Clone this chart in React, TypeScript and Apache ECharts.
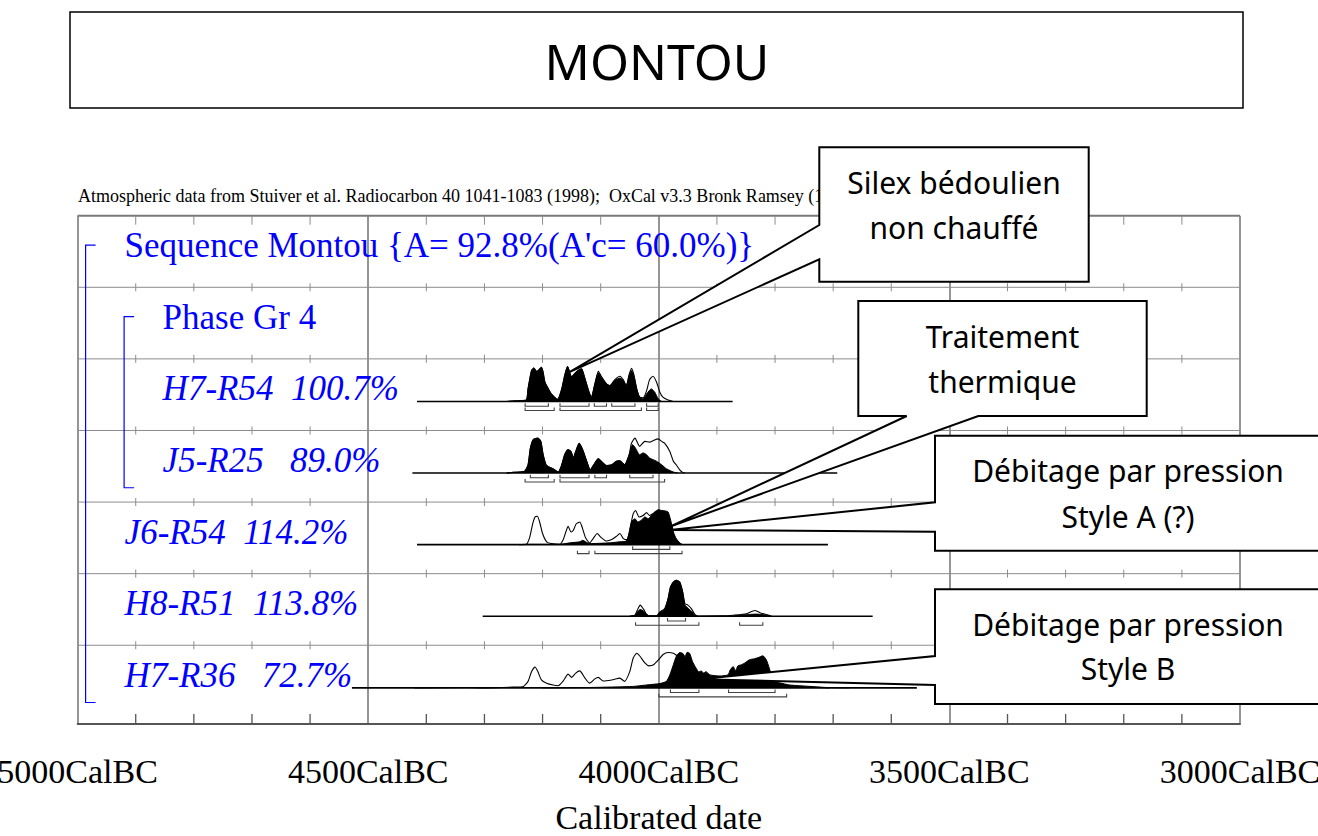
import React, { useEffect, useRef } from "react";
import * as echarts from "echarts";

// ---------- data ----------
const AXIS_MIN_YEAR = 3000;
const AXIS_MAX_YEAR = 5000;
const AXIS_STEP = 500;
const MINOR_STEP = 100;

const ROW_LABELS = [
  "Sequence Montou {A= 92.8%(A'c= 60.0%)}",
  "Phase Gr 4",
  "H7-R54  100.7%",
  "J5-R25   89.0%",
  "J6-R54  114.2%",
  "H8-R51  113.8%",
  "H7-R36   72.7%",
];
const ROW_ITALIC = [false, false, true, true, true, true, true];
const ROW_INDENT = [47, 85, 85, 85, 47, 47, 47];

// [row, fromYear, toYear]
const BASELINES = [
  [2, 4416, 3873],
  [3, 4424, 3693],
  [4, 4416, 3709],
  [5, 4303, 3632],
  [6, 4528, 3556],
];

// 68.2% ranges [row, from, to]
const RANGE_68 = [
  [2, 4230, 4190], [2, 4170, 4120], [2, 4111, 4090], [2, 4081, 4041], [2, 4021, 4001],
  [3, 4221, 4190], [3, 4170, 4120], [3, 4110, 4090], [3, 4050, 4010],
  [4, 4045, 3981],
  [5, 3985, 3954],
  [6, 3980, 3931], [6, 3880, 3800],
];
// 95.4% ranges
const RANGE_95 = [
  [2, 4230, 4180], [2, 4170, 4030], [2, 4021, 4001],
  [3, 4230, 4180], [3, 4170, 3990],
  [4, 4140, 4120], [4, 4110, 3960],
  [5, 4040, 3931], [5, 3861, 3821],
  [6, 4000, 3780],
];

// [year BC, relative probability 0..100]
const H7R54_POST = [
  [4262, 0], [4245, 2], [4228, 4], [4225, 35], [4219, 86], [4215, 93], [4210, 83], [4202, 95], [4199, 81],
  [4196, 54], [4190, 35], [4185, 21], [4174, 6], [4167, 35], [4162, 72], [4157, 97], [4150, 68], [4145, 77],
  [4139, 86], [4133, 91], [4127, 63], [4120, 26], [4116, 12], [4110, 49], [4104, 80], [4099, 68], [4090, 49],
  [4084, 44], [4076, 58], [4067, 65], [4061, 58], [4056, 44], [4051, 72], [4047, 86], [4043, 72], [4038, 35],
  [4033, 12], [4027, 7], [4021, 21], [4013, 35], [4007, 26], [4001, 7], [3995, 0],
];
const H7R54_PRIOR = [
  [4262, 0], [4245, 2], [4228, 4], [4225, 35], [4219, 86], [4215, 93], [4210, 83], [4202, 95], [4199, 81],
  [4196, 54], [4190, 35], [4185, 21], [4174, 6], [4167, 35], [4162, 72], [4157, 97], [4150, 68], [4145, 77],
  [4139, 86], [4133, 91], [4127, 63], [4120, 26], [4116, 12], [4110, 49], [4104, 84], [4099, 70], [4090, 49],
  [4084, 44], [4076, 60], [4067, 70], [4061, 60], [4056, 44], [4051, 75], [4047, 92], [4043, 75], [4038, 35],
  [4033, 12], [4027, 10], [4021, 30], [4016, 60], [4010, 70], [4004, 54], [3998, 25], [3993, 12], [3984, 4],
  [3975, 0],
];
const J5R25_POST = [
  [4262, 0], [4251, 2], [4231, 5], [4225, 23], [4221, 69], [4216, 93], [4208, 97], [4203, 88], [4199, 51],
  [4194, 23], [4188, 16], [4182, 12], [4173, 3], [4167, 23], [4162, 51], [4156, 65], [4151, 60], [4147, 42],
  [4143, 60], [4137, 83], [4131, 65], [4124, 33], [4118, 9], [4112, 23], [4104, 40], [4099, 33], [4090, 21],
  [4081, 23], [4073, 33], [4067, 34], [4059, 23], [4051, 51], [4045, 79], [4040, 69], [4033, 51], [4027, 56],
  [4021, 51], [4016, 42], [4004, 33], [3995, 23], [3987, 12], [3975, 3], [3967, 0],
];
const J5R25_PRIOR = [
  [4262, 0], [4251, 2], [4231, 5], [4225, 23], [4221, 69], [4216, 93], [4208, 97], [4203, 88], [4199, 51],
  [4194, 23], [4188, 16], [4182, 12], [4173, 3], [4167, 23], [4162, 51], [4156, 65], [4151, 60], [4147, 42],
  [4143, 60], [4137, 83], [4131, 65], [4124, 33], [4118, 9], [4112, 23], [4104, 40], [4099, 33], [4090, 21],
  [4081, 23], [4073, 33], [4067, 34], [4059, 23], [4051, 51], [4047, 83], [4041, 97], [4033, 74], [4024, 88],
  [4016, 86], [4010, 90], [4001, 95], [3995, 88], [3990, 83], [3981, 60], [3975, 33], [3970, 23], [3964, 9],
  [3959, 2], [3955, 0],
];
const J6R54_PRIOR = [
  [4240, 0], [4228, 1], [4222, 21], [4217, 58], [4213, 77], [4209, 79], [4205, 63], [4200, 31], [4193, 8],
  [4185, 3], [4170, 1], [4165, 12], [4160, 35], [4156, 51], [4151, 35], [4147, 40], [4142, 58], [4136, 63],
  [4131, 44], [4126, 19], [4119, 5], [4113, 17], [4106, 31], [4100, 21], [4090, 10], [4081, 14], [4073, 23],
  [4067, 31], [4061, 17], [4055, 14], [4049, 49], [4044, 86], [4040, 95], [4034, 77], [4027, 81], [4021, 89],
  [4016, 81], [4010, 86], [4004, 92], [3995, 86], [3987, 81], [3978, 49], [3973, 21], [3967, 7], [3961, 0],
];
const J6R54_POST = [
  [4240, 0], [4228, 1], [4170, 1], [4153, 5], [4136, 8], [4131, 12], [4126, 8], [4119, 3], [4084, 5],
  [4067, 8], [4056, 10], [4051, 31], [4047, 63], [4041, 72], [4036, 63], [4030, 68], [4024, 77], [4018, 72],
  [4013, 81], [4007, 91], [4001, 97], [3995, 95], [3990, 94], [3984, 91], [3978, 58], [3974, 31], [3970, 17],
  [3964, 5], [3959, 0],
];
const H8R51_PRIOR = [
  [4050, 0], [4041, 3], [4037, 17], [4032, 31], [4026, 19], [4021, 5], [4016, 1], [4004, 1], [3998, 12],
  [3990, 21], [3984, 49], [3980, 81], [3975, 95], [3970, 100], [3964, 95], [3959, 68], [3955, 35], [3950, 31],
  [3944, 21], [3938, 5], [3932, 0], [3890, 1], [3872, 3], [3849, 7], [3835, 16], [3826, 10], [3815, 5], [3806, 0],
];
const H8R51_POST = [
  [4050, 0], [4041, 3], [4037, 12], [4032, 19], [4026, 14], [4021, 5], [4016, 1], [4004, 1], [3998, 10],
  [3990, 19], [3984, 49], [3980, 81], [3975, 95], [3970, 100], [3964, 95], [3959, 68], [3955, 31], [3950, 23],
  [3944, 14], [3938, 3], [3932, 0], [3880, 0], [3861, 3], [3844, 5], [3832, 6], [3815, 3], [3806, 0],
];
const H7R36_PRIOR = [
  [4420, 0], [4330, 1], [4300, 0], [4251, 2], [4233, 4], [4225, 18], [4219, 45], [4213, 58], [4208, 45],
  [4202, 22], [4193, 13], [4182, 8], [4173, 6], [4165, 18], [4156, 38], [4150, 29], [4143, 41], [4136, 47],
  [4127, 27], [4119, 13], [4110, 25], [4104, 29], [4096, 19], [4081, 22], [4067, 27], [4059, 18], [4050, 45],
  [4044, 83], [4038, 96], [4032, 87], [4024, 69], [4017, 61], [4009, 64], [4001, 77], [3993, 92], [3984, 98],
  [3975, 96], [3967, 87], [3947, 56], [3930, 33], [3895, 17], [3826, 8], [3758, 3], [3706, 0],
];
const H7R36_POST = [
  [4200, 0], [4119, 1], [4044, 4], [4021, 8], [3998, 12], [3987, 18], [3981, 36], [3975, 64], [3970, 87],
  [3964, 98], [3959, 96], [3955, 87], [3951, 99], [3947, 96], [3942, 73], [3936, 55], [3931, 44], [3927, 47],
  [3923, 41], [3919, 45], [3912, 36], [3895, 33], [3881, 36], [3877, 50], [3872, 59], [3868, 47], [3864, 61],
  [3858, 64], [3852, 69], [3844, 78], [3835, 81], [3829, 84], [3821, 89], [3815, 78], [3810, 55], [3803, 22],
  [3792, 14], [3775, 8], [3758, 6], [3711, 1], [3672, 0],
];

const DISTRIBUTIONS = [
  { row: 2, prior: H7R54_PRIOR, post: H7R54_POST },
  { row: 3, prior: J5R25_PRIOR, post: J5R25_POST },
  { row: 4, prior: J6R54_PRIOR, post: J6R54_POST },
  { row: 5, prior: H8R51_PRIOR, post: H8R51_POST },
  { row: 6, prior: H7R36_PRIOR, post: H7R36_POST },
];

// group brackets [fromRow, toRow]
const GROUP_BRACKETS = [
  [0, 6],
  [1, 3],
];

// callouts: anchor [year, row, rel]
const CALLOUTS = [
  { lines: ["Silex bédoulien", "non chauffé"], tip: [4153, 2, 82] },
  { lines: ["Traitement", "thermique"], tip: [3978, 4, 52] },
  { lines: ["Débitage par pression", "Style A (?)"], tip: [3981, 4, 41] },
  { lines: ["Débitage par pression", "Style B"], tip: [3930, 6, 24] },
];

const TITLE = "MONTOU";
const HEADER =
  "Atmospheric data from Stuiver et al. Radiocarbon 40 1041-1083 (1998);  OxCal v3.3 Bronk Ramsey (1999)";
const X_NAME = "Calibrated date";

// ---------- layout helpers ----------
const Y_MAX = 7.1;
const BASE_OFFSET = 0.405;
const PEAK_UNITS = 0.503;
const rowTop = (k: number) => Y_MAX - k;
const rowBottom = (k: number) => Y_MAX - 1 - k;
const baseOf = (k: number) => rowBottom(k) + BASE_OFFSET;
const valOf = (row: number, rel: number) => baseOf(row) + (rel * PEAK_UNITS) / 100;

const TICK_YEARS: number[] = [];
for (let y = AXIS_MAX_YEAR - MINOR_STEP; y > AXIS_MIN_YEAR; y -= MINOR_STEP) {
  if (y % AXIS_STEP !== 0) TICK_YEARS.push(y);
}

const SERIF = '"Liberation Serif", "Times New Roman", serif';
const HAND = '"Noto Sans", "DejaVu Sans", sans-serif';
const GRID_GRAY = "#8c8c8c";

const ln = (x1: number, y1: number, x2: number, y2: number, stroke: string, lineWidth: number) => ({
  type: "line",
  shape: { x1, y1, x2, y2 },
  style: { stroke, lineWidth },
  silent: true,
});

function buildOption(): any {
  const series: any[] = [];

  // frame: row separators, top border and minor ticks
  series.push({
    type: "custom",
    coordinateSystem: "cartesian2d",
    silent: true,
    z: 1,
    data: [[4000, 1]],
    renderItem: (_p: any, api: any) => {
      const ch: any[] = [];
      const [xL, yT] = api.coord([AXIS_MAX_YEAR, Y_MAX]);
      const [xR, yB] = api.coord([AXIS_MIN_YEAR, 0]);
      ch.push(ln(xL, yT, xR, yT, "#7a7a7a", 2));
      for (let k = 1; k <= 6; k++) {
        const y = api.coord([AXIS_MAX_YEAR, rowTop(k)])[1];
        ch.push(ln(xL, y, xR, y, GRID_GRAY, 1));
        TICK_YEARS.forEach((t) => {
          const x = api.coord([t, rowTop(k)])[0];
          ch.push(ln(x, y - 4, x, y + 4, GRID_GRAY, 1));
        });
      }
      TICK_YEARS.forEach((t) => {
        const x = api.coord([t, Y_MAX])[0];
        ch.push(ln(x, yT, x, yT + 9, GRID_GRAY, 1));
        ch.push(ln(x, yB, x, yB - 10, "#555", 1.3));
      });
      return { type: "group", children: ch };
    },
  });

  // group brackets (blue)
  series.push({
    type: "custom",
    coordinateSystem: "cartesian2d",
    silent: true,
    z: 5,
    data: GROUP_BRACKETS.map((g, i) => [AXIS_MAX_YEAR, i, g[0], g[1]]),
    renderItem: (p: any, api: any) => {
      const g = GROUP_BRACKETS[p.dataIndex];
      const indent = p.dataIndex === 0 ? 8 : 46.5;
      const [x0, yTop] = api.coord([AXIS_MAX_YEAR, rowTop(g[0]) - 0.41]);
      const yBot = api.coord([AXIS_MAX_YEAR, rowBottom(g[1]) + 0.2])[1];
      const x = x0 + indent;
      return {
        type: "polyline",
        shape: { points: [[x + 10, yTop], [x, yTop], [x, yBot], [x + 10, yBot]] },
        style: { stroke: "#0000ff", lineWidth: 1.2, fill: null },
      };
    },
  });

  // distributions
  DISTRIBUTIONS.forEach((d) => {
    const base = baseOf(d.row);
    series.push({
      type: "line",
      silent: true,
      z: 3,
      symbol: "none",
      showSymbol: false,
      smooth: 0.2,
      data: d.post.map(([yr, r]) => [yr, valOf(d.row, r)]),
      lineStyle: { color: "#000", width: 1 },
      areaStyle: { color: "#000", opacity: 1, origin: base },
    });
    series.push({
      type: "line",
      silent: true,
      z: 4,
      symbol: "none",
      showSymbol: false,
      smooth: 0.2,
      data: d.prior.map(([yr, r]) => [yr, valOf(d.row, r)]),
      lineStyle: { color: "#000", width: 1.1 },
    });
  });

  // baselines
  series.push({
    type: "custom",
    coordinateSystem: "cartesian2d",
    silent: true,
    z: 6,
    data: BASELINES.map((b) => [b[1], baseOf(b[0]), b[2]]),
    renderItem: (_p: any, api: any) => {
      const yv = api.value(1);
      const [x1, y] = api.coord([api.value(0), yv]);
      const x2 = api.coord([api.value(2), yv])[0];
      return ln(x1, y, x2, y, "#000", 1.6);
    },
  });

  // ranges
  const rangeItems = [
    ...RANGE_68.map((r) => [r[1], baseOf(r[0]), r[2], 0]),
    ...RANGE_95.map((r) => [r[1], baseOf(r[0]), r[2], 1]),
  ];
  series.push({
    type: "custom",
    coordinateSystem: "cartesian2d",
    silent: true,
    z: 6,
    data: rangeItems,
    renderItem: (_p: any, api: any) => {
      const yv = api.value(1);
      const [x1, y0] = api.coord([api.value(0), yv]);
      const x2 = api.coord([api.value(2), yv])[0];
      const y = y0 + (api.value(3) === 0 ? 4.7 : 9);
      return {
        type: "polyline",
        shape: { points: [[x1, y - 3], [x1, y], [x2, y], [x2, y - 3]] },
        style: { stroke: "#444", lineWidth: 1.1, fill: null },
      };
    },
  });

  // row labels
  series.push({
    type: "custom",
    coordinateSystem: "cartesian2d",
    silent: true,
    z: 7,
    data: ROW_LABELS.map((_, i) => [AXIS_MAX_YEAR, baseOf(i)]),
    renderItem: (p: any, api: any) => {
      const i = p.dataIndex;
      const [x, y] = api.coord([api.value(0), api.value(1)]);
      return {
        type: "text",
        x: x + ROW_INDENT[i],
        y: y - 12.5,
        style: {
          text: ROW_LABELS[i],
          fill: "#0000ff",
          fontSize: 35,
          fontFamily: SERIF,
          fontStyle: ROW_ITALIC[i] ? "italic" : "normal",
          align: "left",
          textAlign: "left",
          verticalAlign: "middle",
          textVerticalAlign: "middle",
        },
      };
    },
  });

  return {
    animation: false,
    backgroundColor: "#fff",
    grid: {
      left: 77.6,
      right: 78,
      top: 215.7,
      bottom: 112,
      containLabel: false,
      outerBoundsMode: "none",
    },
    xAxis: {
      type: "value",
      min: AXIS_MIN_YEAR,
      max: AXIS_MAX_YEAR,
      interval: AXIS_STEP,
      inverse: true,
      name: X_NAME,
      nameLocation: "middle",
      nameGap: 76,
      nameTextStyle: { fontFamily: SERIF, fontSize: 34, color: "#000" },
      axisLine: { show: true, onZero: false, lineStyle: { color: "#555", width: 2 } },
      axisTick: { show: false },
      axisLabel: {
        fontFamily: SERIF,
        fontSize: 34,
        color: "#000",
        margin: 30,
        hideOverlap: false,
        formatter: (v: number) => `${v}CalBC`,
      },
      splitLine: { show: true, lineStyle: { color: "#8a8a8a", width: 1.8 } },
    },
    yAxis: {
      type: "value",
      min: 0,
      max: Y_MAX,
      show: false,
      splitLine: { show: false },
    },
    series,
  };
}

function buildGraphic(px: (yr: number, row: number, rel: number) => number[]): any[] {
  const els: any[] = [];
  const textEl = (
    text: string, x: number, y: number, fontSize: number, fontFamily: string, align = "center", z = 101
  ) => ({
    type: "text",
    x,
    y,
    z,
    silent: true,
    style: {
      text,
      fill: "#000",
      fontSize,
      fontFamily,
      align,
      textAlign: align,
      verticalAlign: "middle",
      textVerticalAlign: "middle",
    },
  });

  // header (sits under the callout boxes)
  els.push(textEl(HEADER, 78, 196, 18, SERIF, "left", 50));

  // title box
  els.push({
    type: "rect",
    z: 100,
    silent: true,
    shape: { x: 70, y: 12, width: 1173, height: 96 },
    style: { fill: "#fff", stroke: "#000", lineWidth: 1.5 },
  });
  els.push(textEl(TITLE, 657, 61, 50, HAND));

  const boxes = [
    { x1: 819.3, y1: 147.3, x2: 1088.7, y2: 281.7, side: "left", a: 225, b: 259.3, ty: [182.7, 227] },
    { x1: 858.3, y1: 301, x2: 1146.7, y2: 416, side: "bottom", a: 906.7, b: 978.3, ty: [336.7, 381.7] },
    { x1: 935, y1: 435.7, x2: 1322, y2: 550.7, side: "left", a: 502.3, b: 531.7, ty: [470, 516.7] },
    { x1: 935, y1: 589.3, x2: 1322, y2: 704, side: "left", a: 656, b: 685, ty: [624, 668.3] },
  ];
  boxes.forEach((bx, i) => {
    const c = CALLOUTS[i];
    const tip = px(c.tip[0], c.tip[1], c.tip[2]);
    let points: number[][];
    if (bx.side === "left") {
      points = [
        [bx.x1, bx.y1], [bx.x2, bx.y1], [bx.x2, bx.y2], [bx.x1, bx.y2],
        [bx.x1, bx.b], tip, [bx.x1, bx.a],
      ];
    } else {
      points = [
        [bx.x1, bx.y1], [bx.x2, bx.y1], [bx.x2, bx.y2], [bx.b, bx.y2],
        tip, [bx.a, bx.y2], [bx.x1, bx.y2],
      ];
    }
    els.push({
      type: "polygon",
      z: 100,
      silent: true,
      shape: { points },
      style: { fill: "#fff", stroke: "#000", lineWidth: 2 },
    });
    const cx = i >= 2 ? 1128 : (bx.x1 + bx.x2) / 2;
    c.lines.forEach((t, j) => els.push(textEl(t, cx, bx.ty[j], 30, HAND)));
  });
  return els;
}

export default function App() {
  const ref = useRef<HTMLDivElement>(null);
  useEffect(() => {
    if (!ref.current) return;
    const chart = echarts.init(ref.current, null, { renderer: "svg" });
    chart.setOption(buildOption());
    const px = (yr: number, row: number, rel: number) =>
      chart.convertToPixel({ gridIndex: 0 } as any, [yr, valOf(row, rel)]) as number[];
    chart.setOption({ graphic: { elements: buildGraphic(px) } });
    return () => chart.dispose();
  }, []);
  return (
    <div
      ref={ref}
      style={{ position: "fixed", left: 0, top: 0, width: 1318, height: 836, background: "#fff" }}
    />
  );
}
